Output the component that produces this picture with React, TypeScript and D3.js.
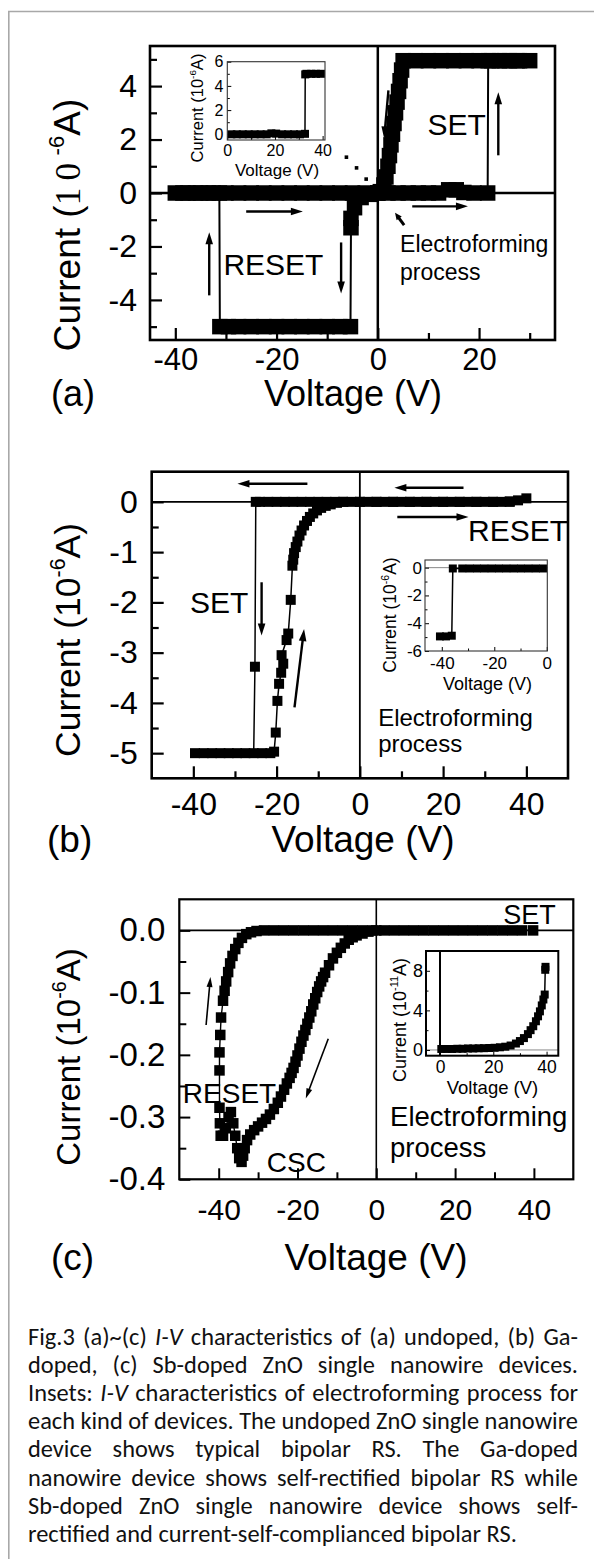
import React, { useEffect, useRef } from 'react';
import * as d3 from 'd3';

type Pt = [number, number];
type Sel = d3.Selection<any, any, any, any>;

const FONT = 'Arial, "Liberation Sans", Helvetica, sans-serif';
const SERIF = '"Times New Roman", "Liberation Serif", serif';
const CAPTION_FONT = 'Calibri, Carlito, Lato, "Open Sans", sans-serif';

// ---------- (a) undoped ZnO nanowire: voltage (V), current (1e-6 A) ----------
const aSweep: Pt[] = [
  [0, 0], [2, 0], [4, 0], [6, 0], [8, 0], [10, 0], [12, 0], [14, 0.12], [15.5, 0.12], [17, 0.02], [19, 0], [21.7, 0],
  [21.8, 4.95], [24, 4.95], [26, 4.95], [28, 4.95], [30, 4.95],
  [27.5, 4.95], [25, 4.95], [22.5, 4.95], [20, 4.95], [17.5, 4.95], [15, 4.95], [12.5, 4.95], [10, 4.95], [7.5, 4.95], [5, 4.95],
  [4.7, 4.6], [4.4, 4.2], [4.1, 3.8], [3.8, 3.4], [3.5, 3.0], [3.2, 2.6], [2.9, 2.2], [2.6, 1.8], [2.3, 1.4], [2.0, 1.0], [1.6, 0.6], [1.2, 0.3], [0.5, 0.05],
  [-1.5, -0.05], [-3.3, -0.17], [-4.6, -0.55], [-5.3, -0.95], [-5.3, -1.3],
  [-5.4, -5.0], [-7.5, -5], [-10, -5], [-12.5, -5], [-15, -5], [-17.5, -5], [-20, -5], [-22.5, -5], [-25, -5], [-27.5, -5], [-29.5, -5], [-31.2, -5],
  [-31.3, 0], [-33.5, 0], [-36, 0], [-38.5, 0], [-40, 0],
  [-37.5, 0], [-35, 0], [-32.5, 0], [-30, 0], [-27.5, 0], [-25, 0], [-22.5, 0], [-20, 0], [-17.5, 0], [-15, 0], [-12.5, 0], [-10, 0], [-7.5, 0], [-5, 0], [-2.5, 0], [0, 0],
];
const aTail: Pt[] = [[-6.2, 1.34], [-4.2, 0.94], [-2.3, 0.52]];
const aInset: Pt[] = [
  [1.7, 0], [4, 0], [6.5, 0], [9, 0], [11.5, 0], [14, 0], [16.5, 0], [18.5, 0.08], [20.5, 0.06], [23, 0], [25.5, 0], [28, 0], [30.5, 0], [32.6, 0.04],
  [32.7, 4.95], [33.2, 5], [35.2, 5], [37.2, 5], [39.3, 5],
];
const aXMajor = [-40, -20, 0, 20];
const aXMinor = [-30, -10, 10, 30];
const aYMajor = [-4, -2, 0, 2, 4];
const aYMinor = [-5, -3, -1, 1, 3, 5];
const aInXMajor = [0, 20, 40];
const aInXMinor = [10, 30];
const aInYMajor = [0, 2, 4, 6];
const aInYMinor = [1, 3, 5];

// ---------- (b) Ga-doped ----------
const bSweep: Pt[] = [
  [0, 0], [2, 0], [4, 0], [6, 0], [8, 0], [10, 0], [12, 0], [14, 0], [16, 0], [18, 0], [20, 0], [22, 0], [24, 0], [26, 0], [28, 0], [30, 0], [32, 0], [34, 0], [36, 0.01], [38, 0.03], [40, 0.07],
  [36, 0], [32, 0], [28, 0], [24, 0], [20, 0], [16, 0], [12, 0], [8, 0], [4, 0], [0, 0],
  [-2, 0], [-4, 0], [-6, 0], [-8, 0], [-10, 0], [-12, 0], [-14, 0], [-16, 0], [-18, 0], [-20, 0], [-22, 0], [-24, 0], [-25, 0],
  [-25.2, -3.28], [-25.5, -5.0],
  [-27.5, -5], [-29.5, -5], [-31.5, -5], [-33.5, -5], [-35.5, -5], [-37.5, -5], [-39.6, -5],
  [-23.5, -5], [-21.5, -5], [-20.6, -4.97],
  [-20.2, -4.59], [-19.8, -3.96], [-19.4, -3.62], [-18.9, -3.4], [-18.4, -3.22], [-18.8, -3.05], [-17.6, -2.75], [-17.2, -2.62],
  [-16.6, -1.95], [-16.2, -1.27], [-16, -1.15], [-15.8, -1.02], [-15.4, -0.9], [-15, -0.79], [-14.5, -0.67], [-14, -0.57],
  [-13.4, -0.47], [-12.7, -0.38], [-12, -0.3], [-11.2, -0.23], [-10.3, -0.17], [-9.3, -0.12], [-8.2, -0.08], [-7, -0.05], [-5.5, -0.02], [-4, 0],
];
const bInset: Pt[] = [
  [-1.4, -0.06], [-4.2, -0.06], [-7, -0.06], [-9.8, -0.06], [-12.6, -0.06], [-15.4, -0.06], [-18.2, -0.06], [-21, -0.06],
  [-23.8, -0.06], [-26.6, -0.06], [-29.4, -0.06], [-32.2, -0.06], [-35.8, -0.06],
  [-36.2, -4.9], [-38.4, -4.95], [-40.7, -4.95],
];
const bXMajor = [-40, -20, 0, 20, 40];
const bXMinor = [-30, -10, 10, 30];
const bYMajor = [0, -1, -2, -3, -4, -5];
const bYMinor = [-0.5, -1.5, -2.5, -3.5, -4.5];
const bInXMajor = [-40, -20, 0];
const bInXMinor = [-30, -10];
const bInYMajor = [0, -2, -4, -6];
const bInYMinor = [-1, -3, -5];

// ---------- (c) Sb-doped ----------
const cSweep: Pt[] = [
  [39.8, 0], [37, 0], [34.5, 0], [32, 0], [29.5, 0], [27, 0], [24.5, 0], [22, 0], [19.5, 0], [17, 0], [14.5, 0], [12, 0], [9.5, 0], [7, 0], [4.5, 0], [2, 0], [0, 0],
  [-2, -0.002], [-3.5, -0.005], [-5, -0.008], [-6, -0.011], [-7, -0.015], [-8, -0.021], [-9, -0.028], [-10, -0.036], [-11, -0.045],
  [-12, -0.056], [-13, -0.068], [-13.5, -0.075], [-14, -0.082], [-14.5, -0.09], [-15, -0.099], [-15.5, -0.109], [-16, -0.119],
  [-16.5, -0.13], [-17, -0.14], [-17.5, -0.15], [-18, -0.16], [-18.5, -0.169], [-19, -0.179], [-19.5, -0.19], [-20, -0.201],
  [-20.5, -0.211], [-21, -0.221], [-21.5, -0.229], [-22, -0.237], [-22.7, -0.246], [-23.4, -0.256], [-24.2, -0.267],
  [-25, -0.277], [-26, -0.287], [-27, -0.296], [-28, -0.303], [-29, -0.309], [-30, -0.315], [-31, -0.321], [-32, -0.328],
  [-32.8, -0.337], [-33.4, -0.35], [-33.8, -0.362], [-34.2, -0.372],
  [-34.8, -0.366], [-35.3, -0.35], [-35.8, -0.33], [-36.3, -0.31], [-36.9, -0.292], [-37.5, -0.3], [-38.2, -0.318], [-38.9, -0.33],
  [-39.5, -0.33], [-39.7, -0.31], [-39.8, -0.285],
  [-39.8, -0.225], [-39.8, -0.196], [-39.6, -0.168], [-39.4, -0.14], [-38.9, -0.113], [-38.5, -0.097], [-38.1, -0.082],
  [-37.6, -0.067], [-37.1, -0.053], [-36.5, -0.041], [-35.8, -0.03], [-35, -0.02], [-34.1, -0.012], [-33, -0.006], [-31.8, -0.003],
  [-30.4, -0.001], [-28.5, 0], [-26, 0], [-23.5, 0], [-21, 0], [-18.5, 0], [-16, 0], [-13.5, 0], [-11, 0], [-8.5, 0], [-6, 0], [-3.5, 0], [-1, 0],
];
const cInset: Pt[] = [
  [0.5, 0.1], [2.5, 0.1], [4.5, 0.1], [6.5, 0.12], [8.5, 0.12], [10.5, 0.15], [12.5, 0.15], [14.5, 0.17], [16.5, 0.18], [18.5, 0.2],
  [20.5, 0.22], [22.5, 0.27], [24.5, 0.33], [26.5, 0.45], [28.5, 0.65], [30, 0.9], [31.5, 1.2], [33, 1.6], [34, 2.0], [35, 2.4],
  [36, 2.9], [36.8, 3.4], [37.5, 3.9], [38.2, 4.5], [38.8, 5.1], [39.3, 5.6], [39.5, 8.1], [39.6, 8.4],
];
const cXMajor = [-40, -20, 0, 20, 40];
const cXMinor = [-30, -10, 10, 30];
const cYMajor = [0, -0.1, -0.2, -0.3, -0.4];
const cYMinor = [-0.05, -0.15, -0.25, -0.35];
const cInXMajor = [0, 20, 40];
const cInXMinor = [10, 30];
const cInYMajor = [0, 4, 8];
const cInYMinor = [2, 6];

const captionLines = [
  'Fig.3 (a)~(c) _I-V_ characteristics of (a) undoped, (b) Ga-',
  'doped, (c) Sb-doped ZnO single nanowire devices.',
  'Insets: _I-V_ characteristics of electroforming process for',
  'each kind of devices. The undoped ZnO single nanowire',
  'device shows typical bipolar RS. The Ga-doped',
  'nanowire device shows self-rectified bipolar RS while',
  'Sb-doped ZnO single nanowire device shows self-',
  'rectified and current-self-complianced bipolar RS.',
];

type Scale = d3.ScaleLinear<number, number>;

interface AxisOpt {
  xMajor: number[]; xMinor: number[]; yMajor: number[]; yMinor: number[];
  major: number; minor: number; tickW: number;
  yFont: number; xFont: number; xPad: number; yPad: number;
  yFmt?: (d: number) => string;
}

function axes(g: Sel, x: Scale, y: Scale, o: AxisOpt) {
  const yb = y.range()[0];
  const x0 = x.range()[0];
  const style = (s: Sel, fs: number) => {
    s.select('.domain').remove();
    s.attr('font-family', FONT).attr('font-size', fs);
    s.selectAll('line').attr('stroke', '#000').attr('stroke-width', o.tickW);
    s.selectAll('text').attr('fill', '#000');
  };
  g.append('g').attr('transform', `translate(0,${yb})`)
    .call(d3.axisBottom(x).tickValues(o.xMinor).tickSize(-o.minor).tickFormat(() => ''))
    .call((s: Sel) => style(s, o.xFont));
  g.append('g').attr('transform', `translate(0,${yb})`)
    .call(d3.axisBottom(x).tickValues(o.xMajor).tickSize(-o.major).tickPadding(o.xPad).tickFormat((d) => String(d)))
    .call((s: Sel) => style(s, o.xFont));
  g.append('g').attr('transform', `translate(${x0},0)`)
    .call(d3.axisLeft(y).tickValues(o.yMinor).tickSize(-o.minor).tickFormat(() => ''))
    .call((s: Sel) => style(s, o.yFont));
  g.append('g').attr('transform', `translate(${x0},0)`)
    .call(d3.axisLeft(y).tickValues(o.yMajor).tickSize(-o.major).tickPadding(o.yPad)
      .tickFormat((d) => (o.yFmt ? o.yFmt(+d) : String(d))))
    .call((s: Sel) => style(s, o.yFont));
}

function box(g: Sel, x: Scale, y: Scale, w: number, color = '#000') {
  const [x0, x1] = x.range();
  const [yb, yt] = y.range();
  g.append('rect').attr('x', x0).attr('y', yt).attr('width', x1 - x0).attr('height', yb - yt)
    .attr('fill', 'none').attr('stroke', color).attr('stroke-width', w);
}

function zeroLines(g: Sel, x: Scale, y: Scale, wv: number, wh: number, color = '#000') {
  const [x0, x1] = x.range();
  const [yb, yt] = y.range();
  g.append('line').attr('x1', x(0)).attr('x2', x(0)).attr('y1', yt).attr('y2', yb).attr('stroke', color).attr('stroke-width', wv);
  g.append('line').attr('x1', x0).attr('x2', x1).attr('y1', y(0)).attr('y2', y(0)).attr('stroke', color).attr('stroke-width', wh);
}

function series(g: Sel, x: Scale, y: Scale, pts: Pt[], side: number, lineW: number) {
  const line = d3.line<Pt>().x((d) => x(d[0])).y((d) => y(d[1]));
  g.append('path').datum(pts).attr('d', line).attr('fill', 'none').attr('stroke', '#000').attr('stroke-width', lineW);
  const sym = d3.symbol(d3.symbolSquare, side * side)();
  g.append('g').selectAll('path').data(pts).join('path')
    .attr('transform', (d) => `translate(${x(d[0])},${y(d[1])})`)
    .attr('d', sym).attr('fill', '#000');
}

function arrow(g: Sel, x: Scale, y: Scale, a: number[], w: number, hl: number, hw: number) {
  const [v1, i1, v2, i2] = a;
  const p1 = [x(v1), y(i1)];
  const p2 = [x(v2), y(i2)];
  const dx = p2[0] - p1[0];
  const dy = p2[1] - p1[1];
  const L = Math.hypot(dx, dy);
  const ux = dx / L;
  const uy = dy / L;
  const bx = p2[0] - ux * hl;
  const by = p2[1] - uy * hl;
  g.append('line').attr('x1', p1[0]).attr('y1', p1[1]).attr('x2', bx + ux * 2).attr('y2', by + uy * 2)
    .attr('stroke', '#000').attr('stroke-width', w);
  g.append('path').attr('d', `M${p2[0]},${p2[1]}L${bx - uy * hw},${by + ux * hw}L${bx + uy * hw},${by - ux * hw}Z`).attr('fill', '#000');
}

function label(g: Sel, x: Scale, y: Scale, v: number, i: number, text: string, fs: number, anchor = 'start') {
  g.append('text').attr('x', x(v)).attr('y', y(i)).attr('font-family', FONT).attr('font-size', fs)
    .attr('text-anchor', anchor).attr('fill', '#000').text(text);
}

function currentTitle(g: Sel, cx: number, cy: number, fs: number, expo: string, serifTen = false) {
  const t = g.append('text').attr('transform', `translate(${cx},${cy}) rotate(-90)`)
    .attr('text-anchor', 'middle').attr('font-family', FONT).attr('font-size', fs).attr('fill', '#000');
  t.append('tspan').text('Current (');
  const ten = t.append('tspan').text('10');
  if (serifTen) ten.attr('font-family', SERIF).attr('letter-spacing', fs * 0.2).attr('font-size', fs * 0.95);
  t.append('tspan').attr('font-size', fs * 0.6).attr('dy', -fs * 0.42).text(expo);
  t.append('tspan').attr('dy', fs * 0.42).text('A)');
}

function xTitle(g: Sel, cx: number, by: number, fs: number) {
  g.append('text').attr('x', cx).attr('y', by).attr('text-anchor', 'middle').attr('font-family', FONT)
    .attr('font-size', fs).attr('fill', '#000').text('Voltage (V)');
}

function drawA(svg: Sel) {
  const g = svg.append('g');
  const x = d3.scaleLinear().domain([-45, 35]).range([150, 555]);
  const y = d3.scaleLinear().domain([-5.5, 5.5]).range([340, 46]);
  zeroLines(g, x, y, 2.5, 2.5);
  series(g, x, y, aSweep, 15.5, 2);
  g.append('g').selectAll('rect').data(aTail).join('rect')
    .attr('x', (d) => x(d[0]) - 1.8).attr('y', (d) => y(d[1]) - 1.8).attr('width', 3.6).attr('height', 3.6).attr('fill', '#000');
  axes(g, x, y, {
    xMajor: aXMajor, xMinor: aXMinor, yMajor: aYMajor, yMinor: aYMinor,
    major: 12, minor: 7, tickW: 2.2, yFont: 32, xFont: 31, xPad: 8, yPad: 13,
  });
  box(g, x, y, 2.6);
  const arrows = [
    [-33.3, -3.83, -33.3, -1.47], [-7.25, -1.85, -7.25, -3.76], [-26, -0.69, -14.8, -0.69],
    [6.8, -0.5, 17.8, -0.5], [2.1, 3.84, 1.25, 2.04], [23.8, 1.41, 23.8, 3.77],
  ];
  arrows.forEach((a) => arrow(g, x, y, a, 2.4, 12, 3.8));
  arrow(g, x, y, [5.2, -1.2, 3.4, -0.74], 3, 7, 3.2);
  label(g, x, y, 9.8, 2.16, 'SET', 30);
  label(g, x, y, -30.5, -3.07, 'RESET', 30);
  label(g, x, y, 4.4, -2.2, 'Electroforming', 23);
  label(g, x, y, 4.4, -3.25, 'process', 23);
  currentTitle(g, 80, 225, 37, '-6', true);
  xTitle(g, 353, 406, 36);
  g.append('text').attr('x', 51).attr('y', 406).attr('font-family', FONT).attr('font-size', 36).text('(a)');

  // inset
  const ix = d3.scaleLinear().domain([0, 41]).range([227.3, 325]);
  const iy = d3.scaleLinear().domain([-0.47, 6]).range([140, 61.7]);
  series(g, ix, iy, aInset, 8, 1.5);
  axes(g, ix, iy, {
    xMajor: aInXMajor, xMinor: aInXMinor, yMajor: aInYMajor, yMinor: aInYMinor,
    major: 4, minor: 2.5, tickW: 1, yFont: 16, xFont: 16, xPad: 5, yPad: 4,
  });
  box(g, ix, iy, 1.1, '#333');
  currentTitle(g, 203, 108, 16.5, '-6');
  xTitle(g, 277, 176, 17);
}

function drawB(svg: Sel) {
  const g = svg.append('g');
  const x = d3.scaleLinear().domain([-50, 50]).range([151.7, 568]);
  const y = d3.scaleLinear().domain([-5.5, 0.6]).range([778.3, 471.7]);
  zeroLines(g, x, y, 1.8, 1.6);
  series(g, x, y, bSweep, 10, 1.5);
  axes(g, x, y, {
    xMajor: bXMajor, xMinor: bXMinor, yMajor: bYMajor, yMinor: bYMinor,
    major: 12, minor: 7, tickW: 2.2, yFont: 32, xFont: 32, xPad: 14, yPad: 14,
  });
  box(g, x, y, 2.6);
  const arrows = [
    [-12.6, 0.36, -29.4, 0.36], [24.9, 0.28, 8.3, 0.28], [9, -0.3, 26.1, -0.3],
    [-23.6, -1.6, -23.6, -2.66], [-15.7, -4.09, -13.4, -2.53],
  ];
  arrows.forEach((a) => arrow(g, x, y, a, 2.4, 12, 3.8));
  label(g, x, y, -40.8, -2.22, 'SET', 30);
  label(g, x, y, 26, -0.77, 'RESET', 30);
  label(g, x, y, 4.4, -4.45, 'Electroforming', 24);
  label(g, x, y, 4.4, -4.98, 'process', 24);
  currentTitle(g, 80, 640, 35.5, '-6');
  xTitle(g, 363, 852, 37);
  g.append('text').attr('x', 47).attr('y', 852).attr('font-family', FONT).attr('font-size', 37).text('(b)');

  const ix = d3.scaleLinear().domain([-46.4, 0.2]).range([425, 547.3]);
  const iy = d3.scaleLinear().domain([-6, 0.55]).range([651, 560]);
  g.append('line').attr('x1', 425).attr('x2', 547.3).attr('y1', iy(0)).attr('y2', iy(0)).attr('stroke', '#888').attr('stroke-width', 1);
  series(g, ix, iy, bInset, 8, 1.5);
  axes(g, ix, iy, {
    xMajor: bInXMajor, xMinor: bInXMinor, yMajor: bInYMajor, yMinor: bInYMinor,
    major: 4, minor: 2.5, tickW: 1, yFont: 17, xFont: 17, xPad: 6, yPad: 3,
  });
  box(g, ix, iy, 1.1, '#333');
  currentTitle(g, 396, 615, 17.5, '-6');
  xTitle(g, 487.5, 690, 18);
}

function drawC(svg: Sel) {
  const g = svg.append('g');
  const x = d3.scaleLinear().domain([-50, 50]).range([179.3, 573.3]);
  const y = d3.scaleLinear().domain([-0.4, 0.05]).range([1179.3, 899.3]);
  zeroLines(g, x, y, 1.6, 1.6);
  label(g, x, y, -49.1, -0.278, 'RESET', 28);
  series(g, x, y, cSweep, 10.5, 1.4);
  axes(g, x, y, {
    xMajor: cXMajor, xMinor: cXMinor, yMajor: cYMajor, yMinor: cYMinor,
    major: 11, minor: 7, tickW: 2, yFont: 33, xFont: 30, xPad: 19, yPad: 14,
    yFmt: (d) => d.toFixed(1),
  });
  box(g, x, y, 2.2);
  arrow(g, x, y, [-43.2, -0.152, -42.1, -0.075], 1.6, 10, 3);
  arrow(g, x, y, [-12.2, -0.174, -17.9, -0.27], 1.6, 10, 3);
  label(g, x, y, 32.2, 0.011, 'SET', 27);
  label(g, x, y, -27.8, -0.388, 'CSC', 28);
  label(g, x, y, 3.5, -0.315, 'Electroforming', 27.5);
  label(g, x, y, 3.5, -0.364, 'process', 27.5);
  currentTitle(g, 80, 1057, 33, '-6');
  xTitle(g, 376, 1270, 37);
  g.append('text').attr('x', 51).attr('y', 1270).attr('font-family', FONT).attr('font-size', 37).text('(c)');

  const ix = d3.scaleLinear().domain([-5.25, 44.4]).range([426, 558.3]);
  const iy = d3.scaleLinear().domain([-0.58, 10]).range([1055.7, 951]);
  g.append('line').attr('x1', 426).attr('x2', 558.3).attr('y1', iy(0)).attr('y2', iy(0)).attr('stroke', '#888').attr('stroke-width', 1);
  g.append('line').attr('x1', ix(0)).attr('x2', ix(0)).attr('y1', 951).attr('y2', 1055.7).attr('stroke', '#000').attr('stroke-width', 2);
  series(g, ix, iy, cInset, 8, 1.5);
  axes(g, ix, iy, {
    xMajor: cInXMajor, xMinor: cInXMinor, yMajor: cInYMajor, yMinor: cInYMinor,
    major: 4, minor: 2.5, tickW: 1, yFont: 18, xFont: 17.5, xPad: 5, yPad: 3,
  });
  box(g, ix, iy, 2, '#000');
  currentTitle(g, 406, 1020, 18, '-11');
  xTitle(g, 492.5, 1094, 18.5);
}

function drawCaption(svg: Sel) {
  const left = 28;
  const right = 578;
  const g = svg.append('g').attr('font-family', CAPTION_FONT).attr('fill', '#111');
  const last = captionLines[captionLines.length - 1];
  const probe = g.append('text').attr('font-size', 20).text(last);
  const w20 = (probe.node() as SVGTextElement).getComputedTextLength();
  probe.remove();
  const fs = (20 * 489) / w20;
  g.attr('font-size', fs);
  captionLines.forEach((line, li) => {
    const by = 1345 + li * 28.1;
    if (li === captionLines.length - 1) {
      g.append('text').attr('x', left).attr('y', by).text(line);
      return;
    }
    const words = line.split(' ');
    const nodes = words.map((wd) => {
      const it = wd.includes('_');
      const t = g.append('text').attr('y', by).text(wd.replace(/_/g, ''));
      if (it) t.attr('font-style', 'italic');
      return t;
    });
    const widths = nodes.map((n) => (n.node() as SVGTextElement).getComputedTextLength());
    const gap = (right - left - d3.sum(widths)) / (words.length - 1);
    let cx = left;
    nodes.forEach((n, k) => {
      n.attr('x', cx);
      cx += widths[k] + gap;
    });
  });
}

export default function App() {
  const ref = useRef<SVGSVGElement>(null);
  useEffect(() => {
    const svg = d3.select(ref.current);
    svg.selectAll('*').remove();
    svg.append('rect').attr('width', 594).attr('height', 1559).attr('fill', '#fff');
    svg.append('path').attr('d', 'M8.8,1559V11.5H594').attr('fill', 'none').attr('stroke', '#a8a8a8').attr('stroke-width', 1.6);
    drawA(svg);
    drawB(svg);
    drawC(svg);
    drawCaption(svg);
  }, []);
  return <svg ref={ref} width={594} height={1559} style={{ position: 'absolute', left: 0, top: 0 }} />;
}
